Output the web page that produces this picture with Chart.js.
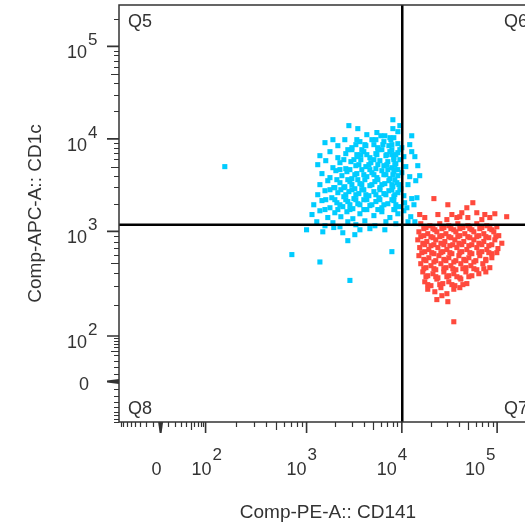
<!DOCTYPE html>
<html>
<head>
<meta charset="utf-8">
<script src="https://cdn.jsdelivr.net/npm/chart.js@4.4.1/dist/chart.umd.min.js"></script>
<style>
  html, body { margin: 0; padding: 0; overflow: hidden; background: #fff; }
  canvas { display: block; }
</style>
</head>
<body>
<canvas id="dotplot" width="560" height="525"></canvas>
<script>
// axis titles and gate names
const xTitle = "Comp-PE-A:: CD141";
const yTitle = "Comp-APC-A:: CD1c";
const quadrantNames = ["Q5", "Q6", "Q7", "Q8"];

// axis ranges (biexponential display)
const xRange = [-86, 262144];
const yRange = [-81, 280000];

// labelled ticks: value and power of ten (null = plain "0")
const majorTicks = [0, 100, 1000, 10000, 100000];
const tickPowers = [null, 2, 3, 4, 5];

// quadrant gate
const gateX = 10100;
const gateY = 1180;

// CD1c+ events (cyan), [CD141, CD1c]
const cd1cEvents = [
  [8050,16100],[2780,13900],[3450,12900],[4290,11100],[5470,11700],[6630,10800],[8050,12900],[9530,13900],[12700,10800],[1890,9800],[1560,9100],
  [2130,8440],[2520,9800],[2990,8030],[3630,9330],[4190,8440],[4850,9800],[5600,8030],[6480,9330],[7310,8440],[8240,10300],[9080,8870],[10000,8030],[12100,8660],[6020,10800],
  [1380,6580],[1760,7270],[2130,6260],[2580,6920],[2990,7640],[3450,6420],[3990,7270],[4620,6260],[5340,6920],[6170,7640],[6800,6580],[7490,7270],[8240,6260],[9080,7090],[10500,6420],[12700,7270],[3710,6750],[7860,6750],
  [1310,5260],[1590,5810],[1890,4880],[2240,5530],[2580,4760],[2920,5670],[3290,5130],[3710,5960],[4190,5010],[4730,5530],[5340,4760],[5880,5810],[6480,5130],[7130,5670],[7860,4880],[8650,5390],[9530,5960],[11000,5010],[14700,5130],
  [1450,4210],[1760,3810],[2030,4530],[2350,4000],[2650,4420],[2990,3710],[3370,4210],[3800,4650],[4290,3900],[4850,4310],[5470,3810],[6170,4530],[6800,4100],[7490,3710],[8240,4420],[9080,4000],[10000,4310],[12100,3900],[15400,4000],
  [1380,3200],[1670,3530],[1930,2970],[2240,3360],[2520,3040],[2850,3450],[3210,2890],[3630,3280],[4090,3620],[4620,3120],[5210,3450],[5880,2970],[6630,3280],[7310,3530],[8050,3040],[8860,3360],[9760,2890],[11600,3200],[14000,3530],
  [1310,2490],[1560,2750],[1840,2310],[2130,2620],[2460,2370],[2780,2690],[3140,2260],[3540,2560],[3990,2820],[4510,2430],[5090,2690],[5740,2310],[6480,2560],[7310,2750],[8240,2370],[9080,2620],[10500,2430],[12700,2260],
  [1190,1940],[1450,2150],[1760,1800],[2080,2040],[2400,1850],[2710,2100],[3060,1760],[3450,1990],[3990,2200],[4620,1900],[5340,2100],[6170,1800],[7130,1990],[8240,2150],[9300,1850],[10700,2040],[13400,1940],
  [1140,1520],[1380,1670],[1670,1410],[1980,1590],[2290,1440],[2650,1630],[3060,1370],[3630,1550],[4290,1720],[5090,1480],[6170,1630],[7490,1410],[9080,1550],[10500,1670],[12400,1440],
  [1280,1270],[1560,1150],[1890,1240],[2240,1120],[2710,1270],[3290,1180],[4090,1300],[5210,1150],[6800,1270],[8650,1210],[11600,1270],
  [1000,1040],[1480,990],[1930,1100],[2710,815],[3210,930],[6630,1040],[2400,970],[3630,1040],[4620,1070],[7860,640],[715,600],[1380,510],[2850,340],[155,5010],
  [13700,6420],[14400,2310],[13700,1270],[11300,1800],
  [3290,8660],[4090,8660],[5090,8660],[6320,8660],[7860,8660],
  [3370,6750],[4290,6750],[5470,6750],[6960,6750],[8650,6750],
  [3540,5260],[4510,5260],[5600,5260],[6960,5260],[8440,5260],
  [3210,4100],[3990,4100],[5090,4100],[6480,4100],[8050,4100],
  [2990,3200],[3800,3200],[4850,3200],[6170,3200],[7860,3200],[9300,3200],
  [2580,2490],[3290,2490],[4190,2490],[5340,2490],[6800,2490],[8440,2490],
  [2240,1940],[2850,1940],[3630,1940],[4850,1940],[6480,1940],[8650,1940],
  [1980,2970],[2460,2970],
  [2710,7640],[3800,7640],[5600,7640],[7860,7640],
  [2460,5960],[3140,5960],[5090,5960],[8240,5960],
  [2240,4650],[2850,4650],[4620,4650],[7130,4650],[9080,4650],
  [2080,3620],[2710,3620],[3450,3620],[5600,3620],[8440,3620],
  [1760,2820],[2290,2820],[2990,2820],[3800,2820],[5880,2820],[7860,2820],
  [1590,2200],[1980,2200],[2580,2200],[3290,2200],[4290,2200],[5880,2200],[7860,2200],
  [1560,1720],[2130,1720],[2850,1720],[3990,1720],[5600,1720],[8240,1720],
  [3370,9800],[5340,9800],[7670,9800],
  [9080,11960],[7490,10300],[9530,7640],[8650,4650],[9530,2820],[8440,1720]
];

// CD141+ events (red), [CD141, CD1c]
const cd141Events = [
  [21700,2260],[30400,1940],[55600,2040],[48100,1800],[23900,1520],[33500,1520],[42600,1590],[61200,1590],[74300,1520],[94600,1550],[126000,1440],[15400,1520],[17400,1410],[29700,1340],[37800,1410],[49300,1410],[69100,1340],[83800,1410],[40600,1440],
  [15800,1210],[17900,1100],[19700,1150],[22200,1040],[25000,1210],[27600,1100],[31100,1150],[35100,1040],[38700,1210],[43700,1100],[49300,1150],[54300,1040],[61200,1210],[69100,1100],[78000,1150],[88000,1040],[99300,1120],
  [15100,990],[17000,910],[18700,950],[21200,870],[23300,990],[26300,910],[29000,950],[32700,870],[36900,990],[40600,910],[45800,950],[51700,870],[57000,990],[64300,910],[72500,950],[81800,870],[92300,990],[104000,910],
  [14700,830],[16600,770],[18300,800],[20200,730],[22700,830],[25700,770],[28300,800],[31900,730],[36000,830],[39700,770],[44700,800],[50500,730],[57000,830],[64300,770],[72500,800],[81800,730],[94600,830],[112000,770],
  [15400,700],[17400,640],[19200,670],[21700,612],[23900,700],[26900,640],[29700,670],[33500,612],[37800,700],[42600,640],[48100,670],[54300,612],[61200,700],[69100,640],[78000,670],[88000,612],[102000,685],
  [15100,586],[17000,540],[19200,560],[21700,510],[24500,586],[27600,540],[31100,560],[35100,510],[39700,586],[44700,540],[50500,560],[57000,510],[65800,586],[76100,540],[88000,560],
  [15800,491],[17900,450],[20200,470],[22700,430],[25700,491],[29000,450],[32700,470],[36900,430],[41600,491],[47000,450],[53000,470],[61200,430],[70800,491],[83800,450],
  [16600,410],[18700,377],[21200,394],[23900,360],[27600,410],[31100,377],[35100,394],[40600,360],[47000,410],[54300,377],[64300,394],[76100,410],
  [17400,330],[20200,303],[23300,350],[26900,317],[31100,330],[36000,303],[41600,350],[48100,317],
  [18700,280],[22200,265],[25700,290],[29700,254],[35100,280],[40600,290],
  [23300,223],[26300,243],[30400,213],[35100,137],
  [17000,1070],[21200,1070],[26300,1070],[32700,1070],[40600,1070],[51700,1070],[65800,1070],[83800,1070],
  [15800,890],[20200,890],[25000,890],[31100,890],[38700,890],[49300,890],[61200,890],[76100,890],[96900,890],
  [17400,746],[21700,746],[27600,746],[34300,746],[42600,746],[54300,746],[69100,746],[88000,746],
  [16200,626],[20600,626],[25700,626],[31900,626],[40600,626],[51700,626],[64300,626],[81800,626],[99300,626],
  [17900,525],[22700,525],[29000,525],[36900,525],[47000,525],[59800,525],[76100,525],
  [17000,440],[21700,440],[27600,440],[34300,440],[43700,440],[57000,440],[72500,440],
  [17900,369],[22700,369],[29700,369],[37800,369],[50500,369],
  [18700,310],[25000,310],[33500,310],[43700,310]
];

const ink = "#333";
const face = "'Liberation Sans', Arial, sans-serif";

// shape of the biex display per axis: stretch of the 10^2-10^3 decade, distance 0 -> 10^3 (in decades)
const axisShape = {
  x: { stretch: 1.06, zero: 1.532, c: 30 },
  y: { stretch: 1.132, zero: 1.622, c: 30 }
};

function biexUnit(p) {
  const u100 = 3 - p.stretch, u0 = 3 - p.zero, den = Math.asinh(100 / p.c);
  return v => {
    if (v >= 1000) return Math.log10(v);
    if (v >= 100) return 3 - p.stretch * (3 - Math.log10(v));
    return u0 + (u100 - u0) * Math.asinh(v / p.c) / den;
  };
}

class BiexScale extends Chart.LinearScale {
  determineDataLimits() {
    this.min = this.options.min;
    this.max = this.options.max;
  }
  buildTicks() {
    return majorTicks.map(v => ({ value: v }));
  }
  configure() {
    super.configure();
    this._f = biexUnit(axisShape[this.axis]);
    this._uMin = this._f(this.min);
    this._uMax = this._f(this.max);
  }
  getPixelForValue(v) {
    return this.getPixelForDecimal((this._f(v) - this._uMin) / (this._uMax - this._uMin));
  }
  getValueForPixel(px) {
    // bisection, only used for interaction
    let lo = this.min, hi = this.max;
    const dec = this.getDecimalForPixel(px);
    for (let i = 0; i < 60; i++) {
      const mid = (lo + hi) / 2;
      const d = (this._f(mid) - this._uMin) / (this._uMax - this._uMin);
      if (d < dec) lo = mid; else hi = mid;
    }
    return lo;
  }
}
BiexScale.id = "biex";
BiexScale.defaults = {};
Chart.register(BiexScale);

// every small tick on a biex axis
function minorValues(range) {
  const out = [];
  for (let m = 1; m <= 9; m++) { out.push(m * 10); out.push(-m * 10); }
  for (const d of [100, 1000, 10000, 100000]) {
    for (let m = 2; m <= 9; m++) out.push(m * d);
  }
  return out.filter(v => v > range[0] && v < range[1] && v !== 100 && v !== -100);
}

function powerLabel(ctx, power, xRight, baseY, supY) {
  ctx.font = "18px " + face;
  ctx.textAlign = "right";
  ctx.fillText("10", xRight, baseY);
  ctx.font = "17px " + face;
  ctx.textAlign = "left";
  ctx.fillText(String(power), xRight + 1, supY);
}

const xLabelNudge = [-4, 6, 0, -5, -12];

const flowAxes = {
  id: "flowAxes",
  afterDatasetsDraw(chart) {
    const { ctx, chartArea: a, scales: { x, y } } = chart;
    ctx.save();
    ctx.strokeStyle = "#000";
    ctx.lineWidth = 2.5;
    const gx = x.getPixelForValue(gateX), gy = y.getPixelForValue(gateY);
    ctx.beginPath();
    ctx.moveTo(gx, a.top); ctx.lineTo(gx, a.bottom);
    ctx.moveTo(a.left, gy); ctx.lineTo(a.right, gy);
    ctx.stroke();
    ctx.restore();
  },
  afterDraw(chart) {
    const { ctx, chartArea: a, scales: { x, y } } = chart;
    ctx.save();
    // frame
    ctx.strokeStyle = ink;
    ctx.lineWidth = 1.5;
    ctx.strokeRect(a.left, a.top, a.right - a.left, a.bottom - a.top);

    // small ticks
    ctx.lineWidth = 1.2;
    ctx.beginPath();
    minorValues(xRange).forEach(v => {
      const px = Math.round(x.getPixelForValue(v)) + 0.5;
      const len = (v === 50 || v === 500 || v === 5000 || v === 50000) ? 8 : 5;
      ctx.moveTo(px, a.bottom); ctx.lineTo(px, a.bottom + len);
    });
    minorValues(yRange).forEach(v => {
      const py = Math.round(y.getPixelForValue(v)) + 0.5;
      const len = (v === 50 || v === 500 || v === 5000 || v === 50000) ? 8 : 5;
      ctx.moveTo(a.left, py); ctx.lineTo(a.left - len, py);
    });
    ctx.stroke();

    // labelled ticks
    ctx.lineWidth = 1.6;
    ctx.fillStyle = ink;
    majorTicks.forEach((v, i) => {
      const px = x.getPixelForValue(v), py = y.getPixelForValue(v);
      if (v === 0) {
        ctx.beginPath();
        ctx.moveTo(px - 2.5, a.bottom); ctx.lineTo(px + 2.5, a.bottom);
        ctx.lineTo(px + 1, a.bottom + 11); ctx.lineTo(px - 1, a.bottom + 11);
        ctx.closePath(); ctx.fill();
        ctx.beginPath();
        ctx.moveTo(a.left, py - 2.5); ctx.lineTo(a.left, py + 2.5);
        ctx.lineTo(a.left - 12, py + 1); ctx.lineTo(a.left - 12, py - 1);
        ctx.closePath(); ctx.fill();
      } else {
        ctx.beginPath();
        ctx.moveTo(px, a.bottom); ctx.lineTo(px, a.bottom + 11);
        ctx.moveTo(a.left, py); ctx.lineTo(a.left - 12, py);
        ctx.stroke();
      }
    });

    // tick labels
    ctx.textBaseline = "alphabetic";
    majorTicks.forEach((v, i) => {
      const px = x.getPixelForValue(v), py = y.getPixelForValue(v);
      const p = tickPowers[i];
      if (p === null) {
        ctx.font = "18px " + face;
        ctx.textAlign = "center";
        ctx.fillText("0", px + xLabelNudge[i], a.bottom + 53);
        ctx.textAlign = "right";
        ctx.fillText("0", a.left - 30, py + 9);
      } else {
        powerLabel(ctx, p, px + xLabelNudge[i], a.bottom + 53, a.bottom + 38);
        powerLabel(ctx, p, a.left - 32, py + 12, py - 1);
      }
    });

    // quadrant names
    ctx.font = "18px " + face;
    ctx.textAlign = "left";
    ctx.fillStyle = ink;
    ctx.fillText(quadrantNames[0], a.left + 9, a.top + 22);
    ctx.fillText(quadrantNames[1], a.right - 33, a.top + 22);
    ctx.fillText(quadrantNames[2], a.right - 33, a.bottom - 8);
    ctx.fillText(quadrantNames[3], a.left + 9, a.bottom - 8);
    ctx.restore();
  }
};

const toPoints = list => list.map(([x, y]) => ({ x, y }));

new Chart(document.getElementById("dotplot"), {
  type: "scatter",
  data: {
    datasets: [
      {
        label: "CD1c+",
        data: toPoints(cd1cEvents),
        backgroundColor: "#00CCFF",
        borderWidth: 0,
        pointStyle: "rect",
        pointRadius: 3.6
      },
      {
        label: "CD141+",
        data: toPoints(cd141Events),
        backgroundColor: "#FF4A3D",
        borderWidth: 0,
        pointStyle: "rect",
        pointRadius: 3.6
      }
    ]
  },
  options: {
    responsive: false,
    animation: false,
    devicePixelRatio: 1,
    events: [],
    layout: { padding: { top: 5, right: 23, left: 0, bottom: 0 } },
    plugins: { legend: { display: false }, tooltip: { enabled: false } },
    scales: {
      x: {
        type: "biex",
        position: "bottom",
        min: xRange[0],
        max: xRange[1],
        grid: { display: false },
        border: { display: false },
        ticks: { display: false },
        title: { display: true, text: xTitle, color: ink, font: { family: face, size: 19 }, padding: { top: 0, bottom: 1 } },
        afterFit: s => { s.height = 103; }
      },
      y: {
        type: "biex",
        position: "left",
        min: yRange[0],
        max: yRange[1],
        grid: { display: false },
        border: { display: false },
        ticks: { display: false },
        title: { display: true, text: yTitle, color: ink, font: { family: face, size: 19 }, padding: { top: 24, bottom: 0 } },
        afterFit: s => { s.width = 119; }
      }
    }
  },
  plugins: [flowAxes]
});
</script>
</body>
</html>
